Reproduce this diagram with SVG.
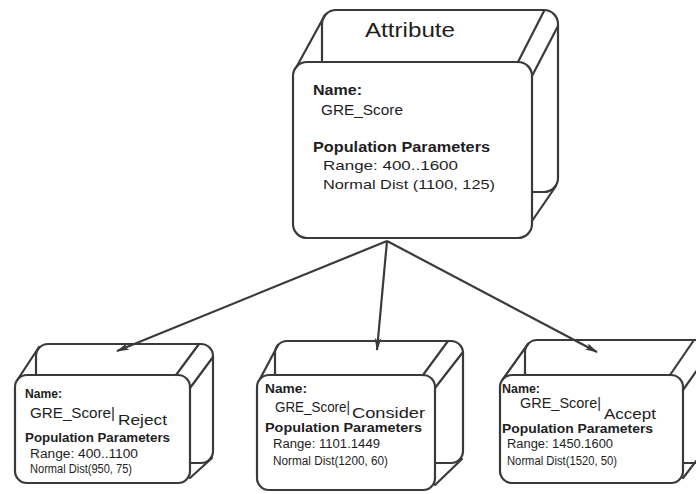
<svg xmlns="http://www.w3.org/2000/svg" width="696" height="494" viewBox="0 0 696 494">
<style>
.face{fill:#fff;stroke:#3a3a3a;stroke-width:2.2}
.edge{fill:none;stroke:#3a3a3a;stroke-width:2.2;stroke-linecap:round}
.conn{fill:none;stroke:#3a3a3a;stroke-width:2.2}
text{font-family:"Liberation Sans",Arial,Helvetica,sans-serif;fill:#1e1e1e}
.b{font-weight:bold}
</style>
<defs>
<marker id="ah" markerUnits="userSpaceOnUse" markerWidth="13" markerHeight="7" refX="12" refY="3.5" orient="auto" viewBox="0 0 13 7">
<path d="M0,0 L13,3.5 L0,7 L3,3.5 Z" fill="#3a3a3a"/>
</marker>
</defs>

<g id="attribute">
<rect class="face" x="322" y="10" width="236" height="182" rx="14"/>
<rect class="face" x="293" y="62" width="239" height="176" rx="14"/>
<line class="edge" x1="297" y1="66" x2="325" y2="15"/>
<line class="edge" x1="518" y1="62" x2="544" y2="11"/>
<line class="edge" x1="532" y1="76" x2="558" y2="26"/>
<line class="edge" x1="532" y1="221" x2="556" y2="186"/>
<text x="365" y="37" font-size="21" textLength="90" lengthAdjust="spacingAndGlyphs">Attribute</text>
<text class="b" x="313" y="95" font-size="14" textLength="49" lengthAdjust="spacingAndGlyphs">Name:</text>
<text x="321" y="115" font-size="14" textLength="82" lengthAdjust="spacingAndGlyphs">GRE_Score</text>
<text class="b" x="313" y="152" font-size="14" textLength="177" lengthAdjust="spacingAndGlyphs">Population Parameters</text>
<text x="323" y="170" font-size="13.5" textLength="135" lengthAdjust="spacingAndGlyphs">Range: 400..1600</text>
<text x="323" y="189" font-size="13.5" textLength="172" lengthAdjust="spacingAndGlyphs">Normal Dist (1100, 125)</text>
</g>

<g id="reject">
<rect class="face" x="36" y="344" width="177" height="119" rx="12"/>
<rect class="face" x="15" y="375" width="175" height="108" rx="12"/>
<line class="edge" x1="18" y1="379" x2="39" y2="347"/>
<line class="edge" x1="176" y1="375" x2="199" y2="344"/>
<line class="edge" x1="190" y1="388" x2="213" y2="357"/>
<line class="edge" x1="190" y1="478" x2="212" y2="458"/>
<text class="b" x="25" y="398" font-size="12.5" textLength="37" lengthAdjust="spacingAndGlyphs">Name:</text>
<text x="30" y="418" font-size="15.5"><tspan textLength="85" lengthAdjust="spacingAndGlyphs">GRE_Score|</tspan><tspan x="118" y="425" textLength="49" lengthAdjust="spacingAndGlyphs">Reject</tspan></text>
<text class="b" x="25" y="442" font-size="12.5" textLength="145" lengthAdjust="spacingAndGlyphs">Population Parameters</text>
<text x="30" y="458" font-size="12.5" textLength="108" lengthAdjust="spacingAndGlyphs">Range: 400..1100</text>
<text x="30" y="473" font-size="12.5" textLength="102" lengthAdjust="spacingAndGlyphs">Normal Dist(950, 75)</text>
</g>

<g id="consider">
<rect class="face" x="275" y="341" width="188" height="122" rx="12"/>
<rect class="face" x="257" y="375" width="178" height="115" rx="12"/>
<line class="edge" x1="260" y1="379" x2="278" y2="345"/>
<line class="edge" x1="423" y1="375" x2="448" y2="341"/>
<line class="edge" x1="435" y1="388" x2="463" y2="352"/>
<line class="edge" x1="435" y1="485" x2="462" y2="459"/>
<text class="b" x="265" y="393" font-size="12.5" textLength="42" lengthAdjust="spacingAndGlyphs">Name:</text>
<text x="275" y="412" font-size="14.5"><tspan textLength="75" lengthAdjust="spacingAndGlyphs">GRE_Score|</tspan><tspan x="352" y="418" textLength="73" lengthAdjust="spacingAndGlyphs">Consider</tspan></text>
<text class="b" x="265" y="432" font-size="12.5" textLength="157" lengthAdjust="spacingAndGlyphs">Population Parameters</text>
<text x="273" y="448" font-size="12.5" textLength="107" lengthAdjust="spacingAndGlyphs">Range: 1101.1449</text>
<text x="273" y="465" font-size="12.5" textLength="115" lengthAdjust="spacingAndGlyphs">Normal Dist(1200, 60)</text>
</g>

<g id="accept">
<rect class="face" x="525" y="340" width="190" height="123" rx="12"/>
<rect class="face" x="500" y="375" width="183" height="108" rx="12"/>
<line class="edge" x1="503" y1="379" x2="528" y2="344"/>
<line class="edge" x1="670" y1="375" x2="694" y2="340"/>
<line class="edge" x1="683" y1="390" x2="700" y2="366"/>
<line class="edge" x1="683" y1="478" x2="700" y2="456"/>
<text class="b" x="502" y="393" font-size="12.5" textLength="38" lengthAdjust="spacingAndGlyphs">Name:</text>
<text x="520" y="408" font-size="15"><tspan textLength="81" lengthAdjust="spacingAndGlyphs">GRE_Score|</tspan><tspan x="604" y="419" textLength="52" lengthAdjust="spacingAndGlyphs">Accept</tspan></text>
<text class="b" x="502" y="433" font-size="12.5" textLength="151" lengthAdjust="spacingAndGlyphs">Population Parameters</text>
<text x="507" y="448" font-size="12.5" textLength="106" lengthAdjust="spacingAndGlyphs">Range: 1450.1600</text>
<text x="507" y="465" font-size="12.5" textLength="110" lengthAdjust="spacingAndGlyphs">Normal Dist(1520, 50)</text>
</g>

<g id="connectors">
<line class="conn" x1="387" y1="241" x2="117" y2="351" marker-end="url(#ah)"/>
<line class="conn" x1="387" y1="241" x2="377" y2="350" marker-end="url(#ah)"/>
<line class="conn" x1="387" y1="241" x2="597" y2="352" marker-end="url(#ah)"/>
</g>
</svg>
